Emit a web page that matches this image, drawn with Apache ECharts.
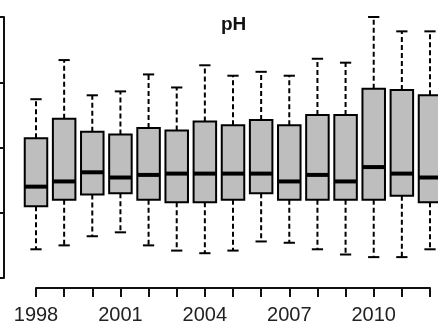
<!DOCTYPE html>
<html><head><meta charset="utf-8">
<script src="https://cdn.jsdelivr.net/npm/echarts@6/dist/echarts.min.js"></script>
<style>html,body{margin:0;padding:0;background:#fff}#c{width:438px;height:333px}</style>
</head><body><div id="c"></div>
<script>
const years = ['1998','1999','2000','2001','2002','2003','2004','2005','2006','2007','2008','2009','2010','2011','2012'];
const xTickLabels = ['1998','2001','2004','2007','2010'];
const whiskerLow  = [6.72,6.75,6.82,6.85,6.75,6.71,6.69,6.71,6.78,6.77,6.72,6.68,6.66,6.66,6.72];
const quartile1   = [7.05,7.10,7.14,7.15,7.10,7.08,7.08,7.10,7.15,7.10,7.10,7.10,7.10,7.13,7.08];
const median      = [7.20,7.24,7.31,7.27,7.29,7.30,7.30,7.30,7.30,7.24,7.29,7.24,7.35,7.30,7.27];
const quartile3   = [7.57,7.72,7.62,7.60,7.65,7.63,7.70,7.67,7.71,7.67,7.75,7.75,7.95,7.94,7.90];
const whiskerHigh = [7.87,8.17,7.90,7.93,8.06,7.96,8.13,8.05,8.08,8.05,8.18,8.15,8.50,8.39,8.39];
const yMin = 6.5, yMax = 8.5, yStep = 0.5;

const boxData = years.map((y, i) => [i, whiskerLow[i], quartile1[i], median[i], quartile3[i], whiskerHigh[i]]);

function renderItem(params, api) {
  const i = api.value(0);
  const lo = api.coord([i, api.value(1)]);
  const b1 = api.coord([i, api.value(2)]);
  const md = api.coord([i, api.value(3)]);
  const b3 = api.coord([i, api.value(4)]);
  const hi = api.coord([i, api.value(5)]);
  const band = api.coord([1, yMin])[0] - api.coord([0, yMin])[0];
  const w = band * 0.8;
  const cx = md[0];
  const half = w / 2, cap = w / 4;
  const dash = { stroke: '#000', lineWidth: 2, lineDash: [5, 3] };
  const solid = { stroke: '#000', lineWidth: 2 };
  return { type: 'group', children: [
    { type: 'line', shape: { x1: cx, y1: b3[1], x2: cx, y2: hi[1] }, style: dash },
    { type: 'line', shape: { x1: cx, y1: b1[1], x2: cx, y2: lo[1] }, style: dash },
    { type: 'line', shape: { x1: cx - cap, y1: hi[1], x2: cx + cap, y2: hi[1] }, style: solid },
    { type: 'line', shape: { x1: cx - cap, y1: lo[1], x2: cx + cap, y2: lo[1] }, style: solid },
    { type: 'rect', shape: { x: cx - half, y: b3[1], width: w, height: b1[1] - b3[1] }, style: { fill: '#bebebe', stroke: '#000', lineWidth: 2 } },
    { type: 'line', shape: { x1: cx - half, y1: md[1], x2: cx + half, y2: md[1] }, style: { stroke: '#000', lineWidth: 4 } }
  ]};
}

const chart = echarts.init(document.getElementById('c'), null, { renderer: 'canvas' });
chart.setOption({
  backgroundColor: '#fff',
  animation: false,
  title: { text: 'pH', left: 216, top: 10, textStyle: { fontFamily: 'Liberation Sans, Arial, sans-serif', fontWeight: 'bold', fontSize: 19, color: '#111' } },
  grid: { left: 36, right: 8, top: 17, height: 261 },
  xAxis: {
    type: 'category', data: years, boundaryGap: false, offset: 10,
    axisLine: { lineStyle: { color: '#111', width: 2 } },
    axisTick: { interval: 0, length: 9, lineStyle: { color: '#111', width: 2 } },
    axisLabel: { interval: 0, margin: 17, fontSize: 20, color: '#222', fontFamily: 'Liberation Sans, Arial, sans-serif',
      formatter: v => xTickLabels.includes(v) ? v : '' },
    splitLine: { show: false }
  },
  yAxis: {
    type: 'value', min: yMin, max: yMax, interval: yStep, offset: 32,
    axisLine: { show: true, lineStyle: { color: '#111', width: 2 } },
    axisTick: { show: true, length: 6, lineStyle: { color: '#111', width: 2 } },
    axisLabel: { show: false },
    splitLine: { show: false }
  },
  series: [{
    type: 'custom', renderItem: renderItem, data: boxData,
    encode: { x: 0, y: [1, 2, 3, 4, 5] }
  }]
});
</script>
</body></html>
